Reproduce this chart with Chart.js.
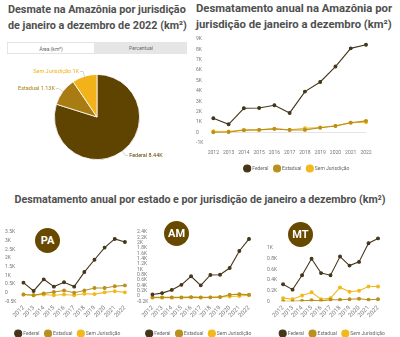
<!DOCTYPE html>
<html>
<head>
<meta charset="utf-8">
<script src="https://cdn.jsdelivr.net/npm/chart.js@4.4.1/dist/chart.umd.min.js"></script>
<style>
  body { margin: 0; background: #fff; font-family: Roboto, sans-serif; }
  #page { position: relative; width: 400px; height: 337px; overflow: hidden; }
  .title { position: absolute; color: #505050; font-weight: bold; font-size: 10.8px; line-height: 16px; white-space: nowrap; }
  .tab { position: absolute; top: 42px; height: 12px; font-size: 5px; line-height: 12px; text-align: center; color: #666; box-sizing: border-box; }
  .badge { position: absolute; width: 25px; height: 25px; border-radius: 50%; background: #684900; color: #fff;
           font-weight: bold; font-size: 11px; display: flex; align-items: center; justify-content: center; }
  canvas { position: absolute; }
</style>
</head>
<body>
<div id="page">
  <div class="title" style="left:8px; top:2px;">Desmate na Amazônia por jurisdição<br>de janeiro a dezembro de 2022 (km²)</div>
  <div class="title" style="left:196px; top:1px; font-size:11.3px;">Desmatamento anual na Amazônia por<br>jurisdição de janeiro a dezembro (km²)</div>
  <div class="title" style="left:0; width:400px; text-align:center; top:192px; font-size:10.7px;">Desmatamento anual por estado e por jurisdição de janeiro a dezembro (km²)</div>

  <div class="tab" style="left:7px; width:88px; border:1px solid #e4e4e4; background:#fff;">Área (km²)</div>
  <div class="tab" style="left:95px; width:92px; background:#e6e6e6;">Percentual</div>

  <canvas id="pie" width="194" height="124" style="left:0; top:55px;"></canvas>
  <canvas id="total" width="210" height="150" style="left:190px; top:31px;"></canvas>
  <canvas id="pa" width="133" height="126" style="left:0; top:220px;"></canvas>
  <canvas id="am" width="130" height="126" style="left:133px; top:220px;"></canvas>
  <canvas id="mt" width="137" height="126" style="left:263px; top:220px;"></canvas>

  <div class="badge" style="left:35px; top:228px;">PA</div>
  <div class="badge" style="left:164px; top:221px;">AM</div>
  <div class="badge" style="left:288px; top:222px;">MT</div>
</div>

<script>
// anos e jurisdições
const years = ['2012', '2013', '2014', '2015', '2016', '2017', '2018', '2019', '2020', '2021', '2022'];
const jurisdictions = ['Federal', 'Estadual', 'Sem Jurisdição'];

// Amazônia (km²)
const amzFederal  = [1380, 800, 2340, 2370, 2630, 1890, 3940, 4870, 6350, 8100, 8440];
const amzEstadual = [30, 60, 220, 260, 360, 250, 260, 470, 640, 950, 1130];
const amzSemJur   = [130, 100, 260, 280, 370, 270, 420, 490, 650, 960, 1000];

// Pará
const paFederal  = [580, 100, 770, 350, 600, 350, 1190, 1900, 2600, 3100, 2920];
const paEstadual = [-100, -150, -40, 40, 130, 0, 130, 270, 270, 370, 420];
const paSemJur   = [-100, -150, -100, -150, -100, -150, -60, -80, 20, 80, 20];

// Amazonas
const amFederal  = [60, 110, 230, 420, 740, 400, 790, 800, 1050, 1690, 2140];
const amEstadual = [-50, -50, -50, -50, -40, -50, -50, -40, 50, 70, 50];
const amSemJur   = [-60, -60, -60, -60, -50, -60, -50, -30, -20, 0, 30];

// Mato Grosso
const mtFederal  = [320, 220, 490, 800, 530, 490, 840, 670, 740, 1090, 1180];
const mtEstadual = [0, 0, 10, 20, 10, 30, 30, 40, 50, 30, 40];
const mtSemJur   = [60, 40, 110, 170, 40, 60, 260, 180, 200, 280, 280];

// eixos Y
const amzTicks = { min: -1000, max: 9000, step: 1000 };
const paTicks  = { min: -500, max: 3500, step: 500 };
const amTicks  = { min: -200, max: 2400, step: 200 };
const mtTicks  = { min: 0, max: 1300, step: 200 };

const pieColors  = ['#5e4400', '#a87c12', '#f2b21a'];
const lineColors = ['#45361a', '#b8901e', '#f2b81c'];

Chart.defaults.font.family = 'Roboto, sans-serif';
Chart.defaults.color = '#777';
Chart.defaults.animation = false;

function fmtK(v) {
  if (v === 0) return '0';
  return parseFloat((v / 1000).toFixed(2)) + 'K';
}

// rótulos da pizza com linha de chamada
const pieLabels = {
  id: 'pieLabels',
  afterDatasetsDraw(chart) {
    const ctx = chart.ctx;
    const ds = chart.data.datasets[0];
    chart.getDatasetMeta(0).data.forEach((arc, i) => {
      const p = arc.getProps(['x', 'y', 'startAngle', 'endAngle', 'outerRadius'], true);
      const mid = (p.startAngle + p.endAngle) / 2;
      const c = Math.cos(mid), s = Math.sin(mid);
      const x1 = p.x + c * p.outerRadius, y1 = p.y + s * p.outerRadius;
      const x2 = p.x + c * (p.outerRadius + 5), y2 = p.y + s * (p.outerRadius + 5);
      const dir = c >= 0 ? 1 : -1;
      ctx.save();
      ctx.strokeStyle = '#b5b5b5';
      ctx.lineWidth = 0.6;
      ctx.beginPath();
      ctx.moveTo(x1, y1);
      ctx.lineTo(x2, y2);
      ctx.lineTo(x2 + dir * 3, y2);
      ctx.stroke();
      ctx.font = '5.5px Roboto, sans-serif';
      ctx.fillStyle = ds.backgroundColor[i];
      ctx.textAlign = dir > 0 ? 'left' : 'right';
      ctx.textBaseline = 'middle';
      ctx.fillText(chart.data.labels[i] + ' ' + fmtK(ds.data[i]), x2 + dir * 4, y2);
      ctx.restore();
    });
  }
};

new Chart(document.getElementById('pie'), {
  type: 'pie',
  data: {
    labels: jurisdictions,
    datasets: [{
      data: [amzFederal[10], amzEstadual[10], amzSemJur[10]],
      backgroundColor: pieColors,
      borderColor: '#fff',
      borderWidth: 0.8
    }]
  },
  options: {
    responsive: false,
    layout: { padding: { left: 54, right: 54, top: 19, bottom: 19 } },
    plugins: { legend: { display: false }, tooltip: { enabled: false } }
  },
  plugins: [pieLabels]
});

function lineDatasets(series) {
  return series.map((values, i) => ({
    label: jurisdictions[i],
    data: values,
    borderColor: lineColors[i],
    backgroundColor: lineColors[i],
    pointBackgroundColor: lineColors[i],
    pointBorderColor: lineColors[i],
    borderWidth: 1.1,
    pointRadius: 1.4,
    tension: 0
  }));
}

function lineChart(id, series, ticks, opts) {
  return new Chart(document.getElementById(id), {
    type: 'line',
    data: { labels: years, datasets: lineDatasets(series) },
    options: {
      responsive: false,
      layout: { padding: opts.padding },
      plugins: {
        tooltip: { enabled: false },
        legend: {
          position: 'bottom',
          labels: {
            usePointStyle: true,
            pointStyle: 'circle',
            boxHeight: 5,
            boxWidth: 5,
            padding: 6,
            color: '#666',
            font: { size: 5 }
          }
        }
      },
      scales: {
        x: {
          grid: { display: false, drawTicks: false },
          border: { display: false },
          // espaço até a legenda e margem direita só da área do gráfico
          afterFit: axis => {
            axis.height += opts.xGrow;
            axis.paddingRight = Math.max(axis.paddingRight, opts.plotRight);
          },
          ticks: {
            autoSkip: false,
            minRotation: opts.rotate,
            maxRotation: opts.rotate,
            padding: opts.xPad,
            font: { size: opts.xFont }
          }
        },
        y: {
          min: ticks.min,
          max: ticks.max,
          border: { display: false },
          grid: {
            drawTicks: false,
            color: c => (opts.zeroLine && c.tick && c.tick.value === 0) ? '#e4e4e4' : 'rgba(0,0,0,0)'
          },
          afterBuildTicks: axis => {
            axis.ticks = axis.ticks.filter(t => t.value % ticks.step === 0);
          },
          ticks: {
            stepSize: ticks.step,
            autoSkip: false,
            crossAlign: 'far',
            padding: opts.yPad,
            font: { size: 5 },
            callback: v => fmtK(v)
          }
        }
      }
    }
  });
}

lineChart('total', [amzFederal, amzEstadual, amzSemJur], amzTicks,
  { padding: { left: 6, right: 2, top: 8, bottom: 0 }, plotRight: 34, rotate: 0, xPad: 7, xGrow: -3, xFont: 5, yPad: 5, zeroLine: true });

lineChart('pa', [paFederal, paEstadual, paSemJur], paTicks,
  { padding: { left: 5, right: 2, top: 12, bottom: 0 }, plotRight: 3, rotate: 45, xPad: 3, xGrow: 3, xFont: 6, yPad: 3.5, zeroLine: false });

lineChart('am', [amFederal, amEstadual, amSemJur], amTicks,
  { padding: { left: 4, right: 2, top: 12, bottom: 0 }, plotRight: 14, rotate: 45, xPad: 3, xGrow: 3, xFont: 6, yPad: 2, zeroLine: false });

lineChart('mt', [mtFederal, mtEstadual, mtSemJur], mtTicks,
  { padding: { left: 4, right: 2, top: 12, bottom: 0 }, plotRight: 22, rotate: 45, xPad: 3, xGrow: 3, xFont: 6, yPad: 3, zeroLine: false });
</script>
</body>
</html>
